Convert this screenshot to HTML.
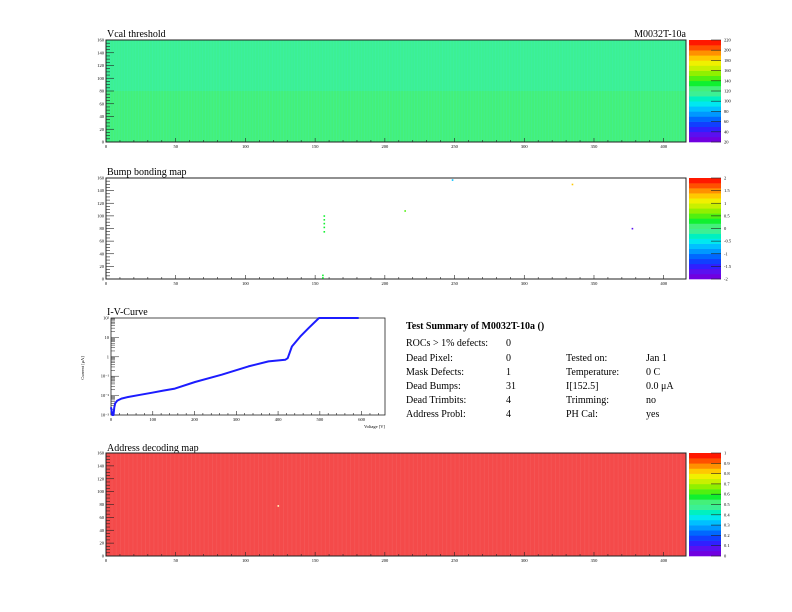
<!DOCTYPE html>
<html><head><meta charset="utf-8">
<style>
html,body{margin:0;padding:0;background:#fff;}
svg{display:block;font-family:"Liberation Serif",serif;}
</style></head>
<body>
<svg id="c" width="792" height="612" viewBox="0 0 792 612" xmlns="http://www.w3.org/2000/svg">
<rect width="792" height="612" fill="#fff"/>
<text x="107" y="37" font-size="10">Vcal threshold</text>
<text x="686" y="37" font-size="10" text-anchor="end">M0032T-10a</text>
<text x="107" y="175" font-size="10">Bump bonding map</text>
<text x="107" y="315" font-size="10">I-V-Curve</text>
<text x="107" y="451" font-size="10">Address decoding map</text>
<g id="maps"></g>
<g id="iv"></g>
<g font-size="10">
<text x="406" y="329" font-weight="bold">Test Summary of M0032T-10a ()</text>
<text x="406" y="346">ROCs &gt; 1% defects:</text><text x="506" y="346">0</text>
<text x="406" y="361">Dead Pixel:</text><text x="506" y="361">0</text>
<text x="406" y="375">Mask Defects:</text><text x="506" y="375">1</text>
<text x="406" y="389">Dead Bumps:</text><text x="506" y="389">31</text>
<text x="406" y="403">Dead Trimbits:</text><text x="506" y="403">4</text>
<text x="406" y="417">Address Probl:</text><text x="506" y="417">4</text>
<text x="566" y="361">Tested on:</text><text x="646" y="361">Jan 1</text>
<text x="566" y="375">Temperature:</text><text x="646" y="375">0 C</text>
<text x="566" y="389">I[152.5]</text><text x="646" y="389">0.0 μA</text>
<text x="566" y="403">Trimming:</text><text x="646" y="403">no</text>
<text x="566" y="417">PH Cal:</text><text x="646" y="417">yes</text>
</g>
</svg>
<script>
// ---- data ----
const xTickLabels = [0,50,100,150,200,250,300,350,400];
const yTickLabels = [0,20,40,60,80,100,120,140,160];
// Vcal: per-ROC mean (8 columns x 2 rows), top row then bottom row
const vcalRocTop = [115,114,116,115,117,116,115,116];
const vcalRocBot = [122,121,123,122,124,123,122,123];
const vcalZ = [0,240];
const vcalLabels = [20,40,60,80,100,120,140,160,180,200,220];
// bump map defects: col,row,value
const bumpCols = [156,156,156,156,156,155,155,214,248,334,377];
const bumpRows = [75,82,88,94,100,2,6,108,157,150,80];
const bumpVals = [0.3,0.3,0.3,0.3,0.3,0.2,0.2,0.4,-0.8,1.2,-1.6];
const bumpZ = [-2,2];
const bumpLabels = ['-2','-1.5','-1','-0.5','0','0.5','1','1.5','2'];
// address decoding
const addrBadCols = [123];
const addrBadRows = [78];
const addrZ = [0,1];
const addrLabels = ['0','0.1','0.2','0.3','0.4','0.5','0.6','0.7','0.8','0.9','1'];
// IV curve
const ivVolt = [0,3,6,8,10,15,25,41,70,97,125,153,201,265,329,377,417,423,433,453,473,498,593];
const ivCurr = [2.5e-3,1e-3,1e-3,2.5e-3,4e-3,5.5e-3,7e-3,8.5e-3,1.1e-2,1.4e-2,1.8e-2,2.3e-2,5e-2,0.12,0.32,0.58,0.7,0.85,3.4,11,30,100,100];
const ivXTicks = [0,100,200,300,400,500,600];
const ivYTicks = ['10⁻³','10⁻²','10⁻¹','1','10','10²'];

const palette = ['#7000e0','#5a10f0','#3020ff','#1040ff','#0068ff','#0098ff','#00c0ff','#00e8f0','#00f0c0','#3cf094','#44f07a','#10f030','#50f010','#90f000','#c8f000','#f0f000','#ffc800','#ff9000','#ff5000','#ff1800'];
const NS='http://www.w3.org/2000/svg';
function mk(tag,attrs,parent){const e=document.createElementNS(NS,tag);for(const k in attrs)e.setAttribute(k,attrs[k]);parent.appendChild(e);return e;}
function colorOf(v,z){let t=(v-z[0])/(z[1]-z[0]);let i=Math.floor(t*palette.length);i=Math.max(0,Math.min(palette.length-1,i));return palette[i];}

const PX0=106,PX1=686;
function mapAxes(g,y0,y1,zr,zlabels,name){
  const sx=c=>PX0+c*(PX1-PX0)/416, sy=r=>y1-r*(y1-y0)/160;
  mk('rect',{x:PX0,y:y0,width:PX1-PX0,height:y1-y0,fill:'none',stroke:'#222','stroke-width':1},g);
  for(let i=0;i<=40;i++){const x=sx(i*10);const major=i%5==0;
    mk('line',{x1:x,x2:x,y1:y1,y2:y1-(major?4:2),stroke:'#222','stroke-width':0.6},g);}
  xTickLabels.forEach(v=>{const t=mk('text',{x:sx(v),y:y1+6,'font-size':4.5,'text-anchor':'middle'},g);t.textContent=v;
    
    });
  for(let i=0;i<=32;i++){const y=sy(i*5);const major=i%4==0;
    mk('line',{x1:PX0,x2:PX0+(major?8:4),y1:y,y2:y,stroke:'#222','stroke-width':0.6},g);}
  yTickLabels.forEach(v=>{const t=mk('text',{x:PX0-2,y:sy(v)+1.5,'font-size':4.5,'text-anchor':'end'},g);t.textContent=v;
    
    });
  const cb=mk('g',{},g);
  
  
  const bx=689,bw=32,bh=(y1-y0)/palette.length;
  palette.forEach((c,i)=>mk('rect',{x:bx,y:y1-(i+1)*bh,width:bw,height:bh+0.3,fill:c},cb));
  zlabels.forEach((lab,i)=>{const y=y1-i*(y1-y0)/(zlabels.length-1);
    mk('line',{x1:bx+bw-10,x2:bx+bw,y1:y,y2:y,stroke:'#222','stroke-width':0.6},cb);
    const t=mk('text',{x:bx+bw+3,y:y+1.5,'font-size':4.5},cb);t.textContent=lab;});
  return {sx,sy};
}
const maps=document.getElementById('maps');
// Map 1 Vcal
(function(){
  const y0=40,y1=142;const g=mk('g',{},maps);
  
  
  const sxc=(PX1-PX0)/416, syc=(y1-y0)/160;
  for(let r=0;r<8;r++){[vcalRocTop,vcalRocBot].forEach((arr,h)=>{
    const v=arr[r];const x=PX0+r*52*sxc, y=h==0?y0:y0+80*syc;
    mk('rect',{x:x,y:y,width:52*sxc+0.3,height:80*syc,fill:colorOf(v,vcalZ)},g);
    for(let c=1;c<52;c+=2)mk('rect',{x:x+c*sxc,y:y,width:sxc*0.6,height:80*syc,fill:'#40f0c0',opacity:0.3},g);
  });}
  mapAxes(g,y0,y1,vcalZ,vcalLabels,'vcal');
})();
// Map 2 Bump
(function(){
  const y0=178,y1=279;const g=mk('g',{},maps);
  
  
  const a=mapAxes(g,y0,y1,bumpZ,bumpLabels,'bump');
  bumpCols.forEach((c,i)=>{const p=mk('rect',{x:a.sx(c),y:a.sy(bumpRows[i]+1),width:1.6,height:1.6,fill:colorOf(bumpVals[i],bumpZ)},g);
    
    });
})();
// Map 3 Address
(function(){
  const y0=453,y1=556;const g=mk('g',{},maps);
  
  
  const sxc=(PX1-PX0)/416;
  mk('rect',{x:PX0,y:y0,width:PX1-PX0,height:y1-y0,fill:'#f44a4a'},g);
  for(let c=1;c<416;c+=3)mk('rect',{x:PX0+c*sxc,y:y0,width:sxc*0.7,height:y1-y0,fill:'#fff',opacity:0.06},g);
  const a=mapAxes(g,y0,y1,addrZ,addrLabels,'address');
  addrBadCols.forEach((c,i)=>{const p=mk('rect',{x:a.sx(c),y:a.sy(addrBadRows[i]+1),width:1.6,height:1.6,fill:'#ffffc0'},g);
    
    });
})();
// IV curve
(function(){
  const g=document.getElementById('iv');
  
  
  const x0=111,x1=385,yt=318,yb=415;
  const sx=v=>x0+v*(x1-x0)/656, sy=i=>yb-(Math.log10(i)+3)*(yb-yt)/5;
  mk('rect',{x:x0,y:yt,width:x1-x0,height:yb-yt,fill:'none',stroke:'#222','stroke-width':0.8},g);
  for(let v=0;v<=650;v+=20){const m=v%100==0;mk('line',{x1:sx(v),x2:sx(v),y1:yb,y2:yb-(m?4:2),stroke:'#222','stroke-width':0.6},g);}
  ivXTicks.forEach(v=>{const t=mk('text',{x:sx(v),y:yb+6,'font-size':4.5,'text-anchor':'middle'},g);t.textContent=v;
    
    });
  for(let d=-3;d<2;d++)for(let k=1;k<10;k++){const y=sy(k*Math.pow(10,d));mk('line',{x1:x0,x2:x0+(k==1?8:4),y1:y,y2:y,stroke:'#222','stroke-width':0.5},g);}
  ivYTicks.forEach((l,i)=>{const t=mk('text',{x:x0-2,y:sy(Math.pow(10,i-3))+1.5,'font-size':4.5,'text-anchor':'end'},g);t.textContent=l;
    
    });
  const xt=mk('text',{x:x1,y:yb+13,'font-size':4.5,'text-anchor':'end'},g);xt.textContent='Voltage [V]';
  
  
  const yt2=mk('text',{x:84,y:yt+50,'font-size':4.5,'text-anchor':'middle',transform:`rotate(-90 84 ${yt+50})`},g);yt2.textContent='Current [μA]';
  
  
  const d=ivVolt.map((v,i)=>(i?'L':'M')+sx(v).toFixed(1)+','+sy(ivCurr[i]).toFixed(1)).join(' ');
  const p=mk('path',{d:d,fill:'none',stroke:'#1c1cff','stroke-width':2,'stroke-linejoin':'round'},g);
  
  
})();
</script>
</body></html>
